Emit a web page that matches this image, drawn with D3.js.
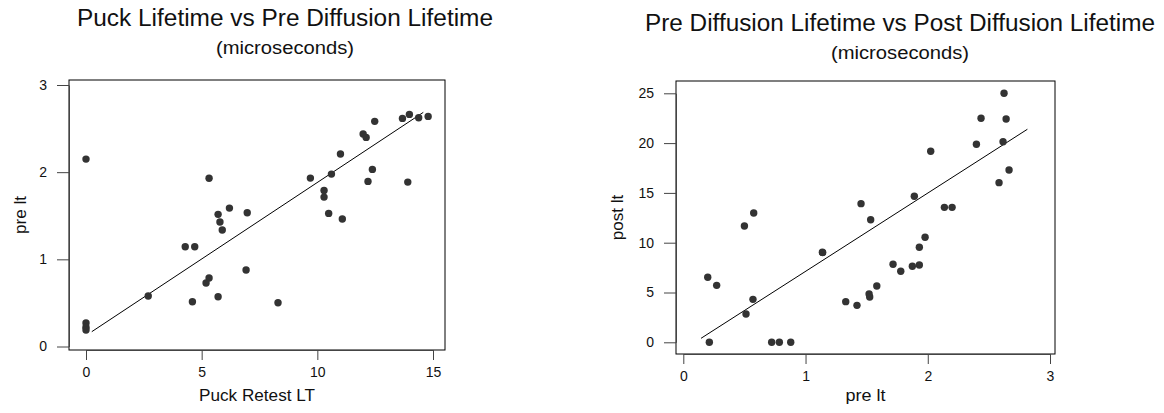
<!DOCTYPE html>
<html>
<head>
<meta charset="utf-8">
<script src="https://cdn.jsdelivr.net/npm/d3@7"></script>
<style>
  html, body { margin: 0; padding: 0; background: #fff; }
  svg { display: block; font-family: "Liberation Sans", Arial, sans-serif; }
</style>
</head>
<body>
<div id="chart"></div>
<script>
// left panel: Puck Retest LT (x) vs pre lt (y)
const puckRetest = [0, 0, 0, 0, 2.69, 5.32, 4.29, 4.70, 5.71, 6.20, 6.97, 5.79, 5.89, 6.92, 5.32, 5.19, 5.71, 4.60,
  8.30, 9.70, 10.61, 11.00, 10.29, 10.29, 10.49, 11.08, 11.98, 12.11, 12.48, 12.38, 12.19, 13.91, 13.68, 13.98, 14.38, 14.79];
const preLtLeft = [2.15, 0.27, 0.22, 0.19, 0.58, 1.93, 1.145, 1.145, 1.516, 1.588, 1.534, 1.428, 1.336, 0.877, 0.786, 0.728, 0.571, 0.514,
  0.502, 1.932, 1.978, 2.208, 1.791, 1.714, 1.527, 1.462, 2.437, 2.399, 2.583, 2.032, 1.894, 1.886, 2.617, 2.663, 2.624, 2.64];
const fitLeft = { x: [0.25, 14.58], y: [0.17, 2.686] };

// right panel: pre lt (x) vs post lt (y)
const preLtRight = [0.213, 0.20, 0.273, 0.50, 0.576, 0.57, 0.513, 0.723, 0.786, 0.879, 1.138, 1.14, 1.329, 1.421, 1.454, 1.533,
  1.52, 1.525, 1.583, 1.716, 1.779, 1.874, 1.931, 1.931, 1.978, 1.89, 2.024, 2.136, 2.199, 2.398, 2.436, 2.624, 2.641, 2.616, 2.665, 2.583];
const postLt = [0, 6.53, 5.72, 11.68, 12.98, 4.31, 2.84, 0, 0, 0, 9.05, 9.0, 4.08, 3.71, 13.92, 12.31,
  4.85, 4.55, 5.65, 7.83, 7.13, 7.63, 7.76, 9.54, 10.54, 14.66, 19.18, 13.55, 13.55, 19.88, 22.49, 25.0, 22.42, 20.14, 17.3, 16.03];
const fitRight = { x: [0.145, 2.815], y: [0.40, 21.39] };

const ticksLeftX = [0, 5, 10, 15];
const ticksLeftY = [0, 1, 2, 3];
const ticksRightX = [0, 1, 2, 3];
const ticksRightY = [0, 5, 10, 15, 20, 25];

const svg = d3.select("#chart").append("svg").attr("width", 1164).attr("height", 413);

function panel(cfg) {
  const g = svg.append("g");
  const x = d3.scaleLinear().domain(cfg.xDomain).range(cfg.xRange);
  const y = d3.scaleLinear().domain(cfg.yDomain).range(cfg.yRange);
  const b = cfg.box;

  g.append("rect").attr("x", b.x0).attr("y", b.y0).attr("width", b.x1 - b.x0).attr("height", b.y1 - b.y0)
    .attr("fill", "none").attr("stroke", "#000").attr("stroke-width", 1);

  const fmt = d3.format("d");
  const ax = g.append("g").attr("transform", `translate(0,${b.y1})`)
    .call(d3.axisBottom(x).tickValues(cfg.xTicks).tickFormat(fmt).tickSize(10).tickSizeOuter(0).tickPadding(7));
  const ay = g.append("g").attr("transform", `translate(${b.x0},0)`)
    .call(d3.axisLeft(y).tickValues(cfg.yTicks).tickFormat(fmt).tickSize(12).tickSizeOuter(0).tickPadding(cfg.yPad));
  [ax, ay].forEach((a) => {
    a.attr("font-size", 14).attr("font-family", "Liberation Sans, Arial, sans-serif");
    a.selectAll(".domain,.tick line").attr("stroke", "#444").attr("stroke-width", 1);
    a.selectAll(".tick text").attr("fill", "#111");
  });

  g.append("line").attr("x1", x(cfg.fit.x[0])).attr("y1", y(cfg.fit.y[0]))
    .attr("x2", x(cfg.fit.x[1])).attr("y2", y(cfg.fit.y[1])).attr("stroke", "#000").attr("stroke-width", 1);

  g.selectAll("circle").data(d3.zip(cfg.xs, cfg.ys)).join("circle")
    .attr("cx", (d) => x(d[0])).attr("cy", (d) => y(d[1])).attr("r", 3.7).attr("fill", "#333");

  g.append("text").attr("x", cfg.titleX).attr("y", cfg.titleY).attr("text-anchor", "middle").attr("fill", "#111")
    .attr("font-size", 23).attr("textLength", cfg.titleLen).attr("lengthAdjust", "spacingAndGlyphs").text(cfg.title);
  g.append("text").attr("x", cfg.titleX).attr("y", cfg.titleY + 28).attr("text-anchor", "middle").attr("fill", "#111")
    .attr("font-size", 18).attr("textLength", 138).attr("lengthAdjust", "spacingAndGlyphs").text("(microseconds)");

  g.append("text").attr("x", (b.x0 + b.x1) / 2).attr("y", 401).attr("text-anchor", "middle").attr("fill", "#111")
    .attr("font-size", 17).attr("textLength", cfg.xLabelLen).attr("lengthAdjust", "spacingAndGlyphs").text(cfg.xLabel);
  g.append("text").attr("transform", `translate(${cfg.yLabelX},${(b.y0 + b.y1) / 2}) rotate(-90)`).attr("fill", "#111")
    .attr("text-anchor", "middle").attr("font-size", 17).text(cfg.yLabel);
}

panel({
  box: { x0: 69, x1: 445, y0: 80, y1: 350 },
  xDomain: [0, 15], xRange: [86, 433], yDomain: [0, 3], yRange: [346.5, 85],
  xTicks: ticksLeftX, yTicks: ticksLeftY, yPad: 10,
  xs: puckRetest, ys: preLtLeft, fit: fitLeft,
  title: "Puck Lifetime vs Pre Diffusion Lifetime", titleX: 285, titleY: 26, titleLen: 416,
  xLabel: "Puck Retest LT", xLabelLen: 116, yLabel: "pre lt", yLabelX: 26,
});

panel({
  box: { x0: 676, x1: 1055, y0: 81, y1: 354 },
  xDomain: [0, 3], xRange: [683.3, 1050], yDomain: [0, 25], yRange: [342.3, 93.3],
  xTicks: ticksRightX, yTicks: ticksRightY, yPad: 10,
  xs: preLtRight, ys: postLt, fit: fitRight,
  title: "Pre Diffusion Lifetime vs Post Diffusion Lifetime", titleX: 900, titleY: 31, titleLen: 510,
  xLabel: "pre lt", xLabelLen: 40, yLabel: "post lt", yLabelX: 623,
});
</script>
</body>
</html>
